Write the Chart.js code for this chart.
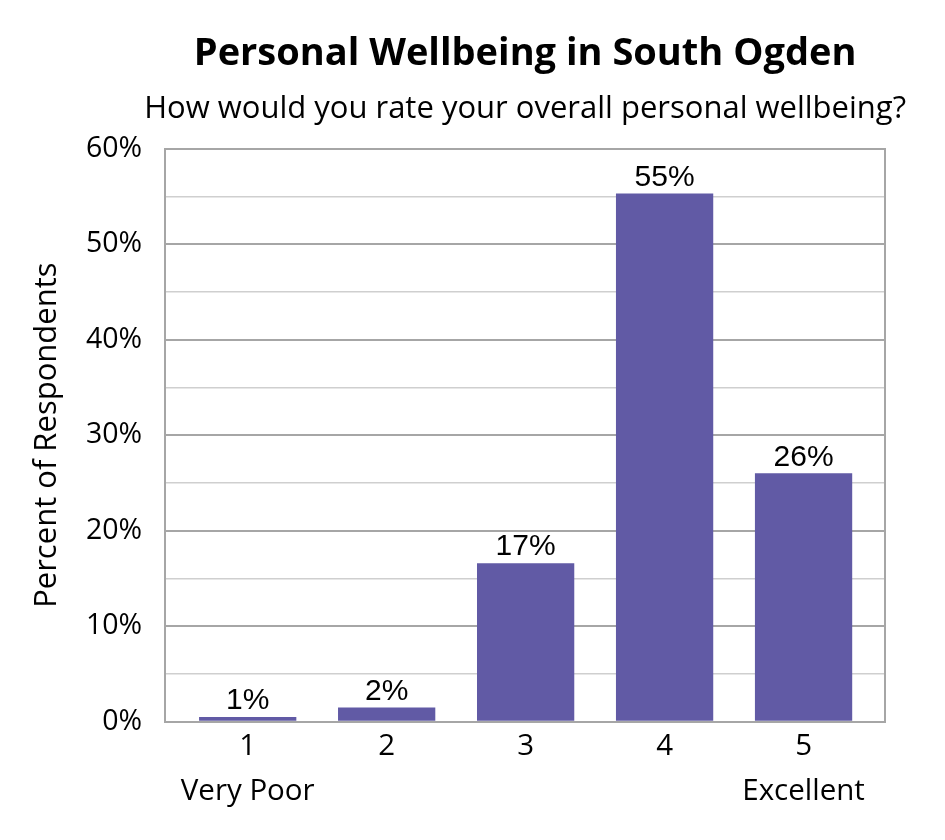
<!DOCTYPE html>
<html>
<head>
<meta charset="utf-8">
<script src="https://cdn.jsdelivr.net/npm/chart.js@4.4.0/dist/chart.umd.min.js"></script>
<style>
  html, body { margin: 0; padding: 0; background: #fff; }
  #wrap { width: 945px; height: 840px; }
</style>
</head>
<body>
<div id="wrap"><canvas id="barChart"></canvas></div>
<script>
var categories = [["1", "Very Poor"], "2", "3", "4", ["5", "Excellent"]];
var ratings = [1, 2, 3, 4, 5];
var percents = [0.5, 1.5, 16.6, 55.3, 26.0];
var tickValues = [0, 10, 20, 30, 40, 50, 60];

var titleText = 'Personal Wellbeing in South Ogden';
var subtitleText = 'How would you rate your overall personal wellbeing?';

var barColor = '#615AA5';
var textFont = '"Open Sans", Lato, sans-serif';

var points = ratings.map(function(r, i) { return { x: r, y: percents[i] }; });

// value labels above each bar
var barLabels = {
	id: 'barLabels',
	afterDatasetsDraw: function(chart) {
		var ctx = chart.ctx;
		var meta = chart.getDatasetMeta(0);
		ctx.save();
		ctx.font = '30px "Liberation Sans", Arial, sans-serif';
		ctx.fillStyle = '#000';
		ctx.textAlign = 'center';
		ctx.textBaseline = 'bottom';
		meta.data.forEach(function(bar, i) {
			ctx.fillText(Math.round(percents[i]) + '%', bar.x, bar.y - 1);
		});
		ctx.restore();
	}
};

// subtitle is wider than the plot, so draw it centred on the plot without clipping
var wideSubtitle = {
	id: 'wideSubtitle',
	afterDraw: function(chart) {
		var a = chart.chartArea;
		var ctx = chart.ctx;
		ctx.save();
		ctx.font = '31px ' + textFont;
		ctx.fillStyle = '#000';
		ctx.textAlign = 'center';
		ctx.textBaseline = 'middle';
		ctx.fillText(subtitleText, (a.left + a.right) / 2, a.top - 39);
		ctx.restore();
	}
};

var ctx = document.getElementById("barChart").getContext("2d");
var myChart = new Chart(ctx, {
	type: 'bar',
	data: {
		datasets: [{
			data: points,
			backgroundColor: barColor,
			barPercentage: 0.7,
			categoryPercentage: 1.0
		}]
	},
	plugins: [barLabels, wideSubtitle],
	options: {
		responsive: true,
		maintainAspectRatio: false,
		animation: false,
		layout: { padding: { left: 32, right: 60, top: 31, bottom: 24 } },
		plugins: {
			legend: { display: false },
			tooltip: { enabled: false },
			title: {
				display: true,
				fullSize: false,
				text: titleText,
				color: '#000',
				font: { family: textFont, size: 38, weight: 'bold' },
				padding: { top: 0, bottom: 72 }
			}
		},
		scales: {
			x: {
				type: 'linear',
				min: 0.406,
				max: 5.586,
				offset: false,
				grid: { display: false, drawTicks: false },
				border: { color: '#A6A6A6', width: 2 },
				ticks: {
					stepSize: 1,
					includeBounds: false,
					autoSkip: false,
					color: '#000',
					font: { family: textFont, size: 29.5, lineHeight: 1.53 },
					padding: 2,
					maxRotation: 0,
					callback: function(v) {
						var i = ratings.indexOf(v);
						return i >= 0 ? categories[i] : '';
					}
				}
			},
			y: {
				min: 0,
				max: 60,
				position: 'left',
				border: { color: '#A6A6A6', width: 2 },
				grid: {
					drawTicks: false,
					color: function(c) {
						return tickValues.indexOf(c.tick.value) >= 0 ? '#A6A6A6' : '#CFCFCF';
					},
					lineWidth: function(c) {
						return tickValues.indexOf(c.tick.value) >= 0 ? 2 : 1.5;
					}
				},
				ticks: {
					stepSize: 5,
					color: '#000',
					padding: 23,
					font: { family: textFont, size: 28.5 },
					callback: function(v) {
						return tickValues.indexOf(v) >= 0 ? v + '%' : '';
					}
				},
				title: {
					display: true,
					text: 'Percent of Respondents',
					color: '#000',
					font: { family: textFont, size: 31, lineHeight: 1.0 },
					padding: { top: 0, bottom: 0 }
				}
			},
			y2: {
				position: 'right',
				min: 0,
				max: 60,
				grid: { display: false, drawTicks: false },
				border: { color: '#A6A6A6', width: 2 },
				ticks: { display: false }
			}
		}
	}
});
</script>
</body>
</html>
